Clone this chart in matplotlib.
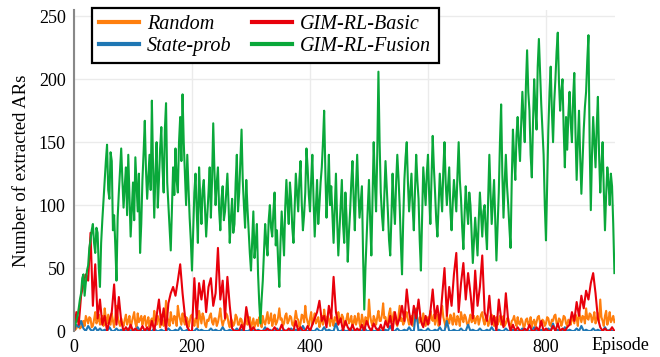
import matplotlib

matplotlib.use("Agg")
import matplotlib.pyplot as plt
import numpy as np

plt.rcParams["font.family"] = ["Liberation Serif", "DejaVu Serif"]

EPISODE_MAX = 917

# GIM-RL-Fusion, read every 2 episodes (0, 2, ..., 916)
FUSION = [
    2, 5, 8, 12, 18, 25, 30, 42, 45, 28, 38, 48, 52, 66, 72, 80, 85, 70, 62, 82,
    78, 50, 35, 70, 88, 104, 120, 135, 148, 112, 105, 142, 135, 80, 92, 68, 40, 90, 110, 128,
    145, 120, 98, 115, 130, 92, 140, 108, 75, 96, 118, 88, 138, 116, 95, 125, 62, 85, 120, 142,
    167, 128, 105, 122, 140, 112, 183, 130, 90, 125, 150, 98, 120, 145, 162, 130, 110, 160, 181, 118,
    100, 82, 64, 98, 130, 108, 145, 120, 110, 150, 170, 135, 188, 150, 125, 100, 140, 115, 90, 72,
    48, 80, 110, 125, 95, 70, 130, 105, 85, 112, 120, 98, 75, 92, 110, 130, 90, 120, 165, 128,
    100, 118, 130, 96, 80, 105, 115, 88, 95, 110, 125, 100, 70, 90, 105, 78, 85, 118, 140, 95,
    110, 135, 160, 120, 100, 82, 120, 98, 80, 62, 48, 72, 95, 58, 70, 85, 45, 22, 6, 25,
    40, 62, 85, 70, 60, 88, 100, 82, 75, 95, 110, 68, 80, 55, 35, 70, 95, 78, 60, 98,
    120, 100, 85, 118, 105, 82, 70, 98, 125, 110, 95, 120, 135, 102, 80, 92, 110, 145, 130, 108,
    95, 120, 140, 105, 75, 98, 120, 85, 100, 118, 130, 150, 175, 128, 90, 112, 140, 100, 115, 92,
    70, 98, 125, 88, 60, 80, 100, 120, 85, 70, 110, 90, 55, 78, 95, 118, 135, 105, 80, 115,
    140, 110, 90, 102, 115, 60, 17, 50, 75, 98, 120, 88, 60, 105, 150, 118, 95, 140, 206, 150,
    110, 92, 80, 108, 135, 115, 95, 72, 60, 90, 125, 100, 85, 118, 140, 122, 100, 70, 45, 88,
    120, 138, 150, 118, 95, 110, 125, 98, 80, 112, 140, 120, 105, 72, 48, 90, 130, 115, 100, 125,
    140, 108, 85, 122, 155, 130, 110, 88, 75, 100, 125, 110, 95, 128, 150, 118, 100, 115, 130, 95,
    80, 102, 120, 108, 95, 125, 150, 120, 105, 82, 65, 92, 115, 98, 85, 110, 100, 78, 54, 72,
    90, 75, 60, 88, 110, 92, 75, 95, 100, 80, 65, 105, 140, 110, 85, 102, 120, 88, 56, 82,
    110, 150, 180, 125, 90, 118, 140, 115, 100, 82, 66, 120, 160, 138, 120, 155, 170, 150, 135, 165,
    190, 168, 150, 195, 223, 190, 175, 140, 122, 165, 200, 178, 160, 210, 232, 205, 180, 160, 140, 100,
    72, 118, 160, 190, 210, 175, 150, 182, 200, 222, 237, 198, 175, 190, 200, 160, 130, 170, 144, 172,
    190, 165, 150, 185, 205, 158, 120, 150, 175, 138, 109, 135, 160, 178, 190, 215, 235, 150, 96, 140,
    170, 150, 130, 162, 186, 140, 110, 132, 150, 112, 80, 108, 130, 118, 100, 125, 115, 85, 46,
]

# Random, read every 2 episodes
RANDOM = [
    0, 1, 2, 4, 5, 2, 3, 7, 8, 4, 12, 9, 6, 11, 10, 3, 4, 9, 15, 6,
    8, 13, 5, 9, 12, 4, 18, 10, 6, 13, 9, 5, 14, 8, 3, 11, 20, 12, 7, 4,
    10, 6, 4, 9, 13, 5, 8, 12, 2, 7, 11, 15, 6, 3, 14, 7, 9, 12, 5, 10,
    12, 4, 7, 11, 3, 8, 10, 5, 16, 9, 5, 12, 9, 3, 13, 8, 4, 10, 24, 11,
    8, 4, 15, 9, 6, 12, 11, 4, 20, 13, 9, 5, 14, 8, 5, 11, 10, 3, 7, 12,
    13, 8, 4, 10, 9, 3, 16, 11, 6, 14, 11, 5, 3, 9, 8, 12, 14, 7, 5, 10,
    10, 4, 7, 12, 18, 9, 4, 8, 9, 14, 12, 6, 3, 10, 8, 4, 6, 13, 11, 5,
    5, 10, 9, 4, 3, 8, 12, 5, 7, 11, 2, 6, 10, 3, 6, 9, 4, 11, 8, 3,
    12, 7, 5, 10, 15, 6, 9, 14, 4, 8, 13, 5, 7, 11, 18, 9, 10, 4, 6, 12,
    14, 6, 8, 12, 11, 5, 4, 9, 16, 10, 9, 3, 6, 13, 12, 7, 20, 11, 7, 4,
    10, 15, 5, 9, 14, 6, 8, 11, 3, 7, 12, 5, 17, 10, 6, 12, 9, 4, 13, 8,
    4, 11, 10, 6, 15, 9, 7, 13, 11, 4, 5, 10, 14, 6, 8, 12, 3, 7, 12, 5,
    9, 14, 6, 3, 13, 8, 4, 11, 10, 6, 25, 12, 7, 4, 12, 9, 5, 11, 16, 8,
    8, 13, 22, 10, 11, 5, 6, 14, 18, 7, 9, 15, 14, 6, 4, 12, 20, 8, 10, 5,
    7, 12, 15, 9, 5, 10, 12, 4, 9, 14, 18, 8, 6, 11, 10, 5, 14, 9, 4, 8,
    11, 6, 16, 10, 8, 13, 5, 9, 13, 4, 9, 15, 20, 11, 7, 3, 12, 8, 6, 13,
    10, 5, 14, 8, 5, 12, 9, 4, 15, 10, 7, 13, 11, 6, 4, 9, 13, 7, 8, 12,
    6, 10, 12, 5, 9, 13, 15, 8, 5, 11, 10, 4, 7, 12, 13, 6, 4, 9, 11, 5,
    8, 12, 5, 9, 12, 4, 6, 10, 10, 5, 3, 8, 9, 12, 7, 4, 11, 6, 5, 10,
    8, 3, 4, 9, 10, 5, 6, 11, 3, 7, 9, 4, 7, 11, 12, 6, 5, 9, 8, 4,
    6, 11, 10, 5, 4, 9, 8, 12, 13, 6, 5, 10, 9, 4, 7, 12, 11, 6, 4, 9,
    8, 5, 12, 9, 6, 13, 10, 4, 15, 11, 7, 12, 11, 6, 18, 10, 9, 14, 13, 7,
    10, 15, 6, 9, 14, 8, 25, 11, 8, 4, 12, 16, 5, 9, 15, 7, 9, 12, 7,
]

# GIM-RL-Basic, read every 4 episodes (0, 4, ..., 916)
BASIC = [
    0, 15, 5, 28, 38, 45, 40, 78, 20, 53,
    10, 25, 5, 12, 0, 8, 15, 37, 5, 27,
    8, 0, 3, 0, 5, 0, 2, 0, 0, 4,
    0, 3, 0, 8, 0, 12, 25, 5, 18, 0,
    22, 30, 35, 28, 40, 53, 30, 12, 3, 0,
    0, 42, 10, 38, 25, 40, 15, 35, 42, 20,
    30, 66, 25, 40, 10, 43, 20, 2, 0, 0,
    0, 5, 0, 19, 8, 0, 3, 0, 0, 0,
    0, 0, 2, 0, 0, 3, 0, 0, 5, 0,
    0, 2, 0, 0, 8, 0, 3, 0, 0, 4,
    0, 5, 10, 15, 24, 8, 12, 3, 20, 10,
    43, 15, 5, 10, 0, 8, 3, 0, 5, 0,
    2, 0, 5, 0, 8, 3, 0, 6, 2, 0,
    5, 0, 8, 3, 12, 0, 15, 5, 10, 20,
    8, 33, 15, 5, 20, 10, 25, 8, 3, 12,
    5, 15, 33, 10, 20, 5, 28, 50, 12, 35,
    20, 45, 62, 15, 38, 54, 25, 46, 30, 10,
    48, 20, 35, 60, 15, 8, 28, 5, 12, 0,
    25, 10, 3, 30, 8, 0, 5, 0, 3, 0,
    0, 2, 0, 5, 0, 0, 3, 0, 8, 0,
    2, 0, 0, 4, 0, 6, 0, 2, 0, 3,
    5, 15, 8, 23, 12, 28, 18, 32, 25, 38,
    46, 30, 10, 3, 0, 2, 0, 0, 3, 0,
]

# State-prob, read every 4 episodes
STATE_PROB = [
    0, 5, 3, 8, 2, 0, 4, 1, 0, 3,
    0, 2, 0, 1, 0, 3, 0, 0, 2, 0,
    1, 0, 0, 2, 0, 1, 0, 3, 0, 0,
    0, 1, 0, 0, 2, 0, 0, 1, 0, 0,
    2, 0, 0, 1, 0, 3, 0, 0, 1, 0,
    0, 0, 2, 0, 1, 0, 0, 0, 2, 0,
    1, 0, 0, 3, 0, 0, 1, 0, 0, 2,
    0, 1, 0, 0, 0, 2, 0, 0, 1, 0,
    0, 3, 0, 1, 0, 0, 2, 0, 0, 1,
    0, 0, 2, 0, 1, 0, 0, 4, 0, 0,
    1, 0, 0, 2, 0, 0, 3, 0, 1, 0,
    0, 6, 0, 0, 1, 0, 0, 2, 0, 0,
    1, 0, 0, 3, 0, 0, 1, 0, 0, 2,
    0, 0, 1, 0, 4, 0, 0, 2, 0, 0,
    1, 0, 3, 0, 0, 17, 0, 1, 0, 0,
    2, 0, 0, 1, 0, 3, 0, 0, 8, 0,
    0, 1, 0, 0, 2, 0, 0, 5, 0, 1,
    0, 0, 2, 0, 0, 1, 0, 3, 0, 0,
    1, 0, 0, 2, 0, 0, 1, 0, 0, 0,
    2, 0, 1, 0, 0, 3, 0, 0, 1, 0,
    0, 2, 0, 6, 0, 1, 0, 0, 3, 0,
    1, 0, 0, 2, 0, 4, 0, 1, 0, 0,
    2, 0, 1, 0, 0, 3, 0, 1, 0, 0,
]

SERIES = [
    ("Random", RANDOM, 2, "#ff7f0e"),
    ("State-prob", STATE_PROB, 4, "#1f77b4"),
    ("GIM-RL-Basic", BASIC, 4, "#e8000b"),
    ("GIM-RL-Fusion", FUSION, 2, "#0aa83a"),
]

fig = plt.figure(figsize=(6.6, 3.57), dpi=100)
ax = fig.add_axes([74 / 660, 1 - 331 / 357, 541 / 660, 321 / 357])

for name, values, step, color in SERIES:
    episodes = np.arange(len(values)) * step
    ax.plot(episodes, values, color=color, lw=1.5, label=name)

ax.set_xlim(0, EPISODE_MAX)
ax.set_ylim(0, 255)
ax.set_xticks([0, 200, 400, 600, 800])
ax.set_yticks([0, 50, 100, 150, 200, 250])
ax.tick_params(length=0, labelsize=13, pad=6)
ax.grid(True, color="#ebebeb", lw=1)
ax.set_axisbelow(True)
for side in ["top", "right", "bottom"]:
    ax.spines[side].set_visible(False)
ax.spines["left"].set_color("#888888")
ax.spines["left"].set_linewidth(1.5)

ax.set_ylabel("Number of extracted ARs", fontsize=13.5, labelpad=6)
fig.text(620 / 660, 1 - 345 / 357, "Episode", fontsize=13, ha="center", va="center")

leg = ax.legend(
    loc="upper left",
    bbox_to_anchor=(0.033, 1.006),
    ncol=2,
    fancybox=False,
    framealpha=1,
    prop={"style": "italic", "size": 14.5},
    handlelength=2.0,
    handletextpad=0.4,
    columnspacing=1.0,
    labelspacing=0.12,
    borderpad=0.35,
    borderaxespad=0,
)
leg.get_frame().set_edgecolor("black")
leg.get_frame().set_linewidth(1.6)
for line in leg.get_lines():
    line.set_linewidth(3)

fig.savefig("out.png", dpi=100)
